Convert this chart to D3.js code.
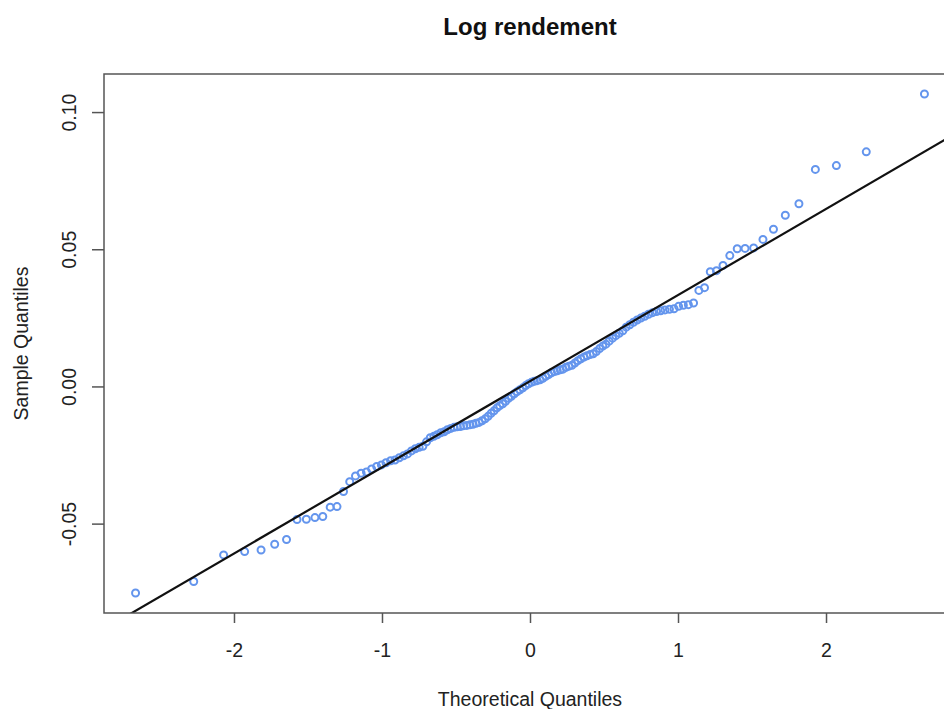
<!DOCTYPE html>
<html>
<head>
<meta charset="utf-8">
<title>Log rendement</title>
<script src="https://cdn.jsdelivr.net/npm/d3@7"></script>
<style>
  body { margin: 0; background: #fff; }
  text { font-family: "Liberation Sans", Arial, sans-serif; fill: #222; }
</style>
</head>
<body>
<svg id="chart"></svg>
<script>
  // theoretical normal quantiles (n = 130), sorted
  var theoretical = [
    -2.665, -2.272, -2.070, -1.928, -1.817, -1.725, -1.645, -1.574, -1.511, -1.453,
    -1.400, -1.350, -1.304, -1.260, -1.218, -1.179, -1.141, -1.105, -1.070, -1.036,
    -1.004, -0.973, -0.942, -0.912, -0.883, -0.855, -0.828, -0.801, -0.775, -0.749,
    -0.724, -0.699, -0.674, -0.650, -0.627, -0.603, -0.580, -0.558, -0.535, -0.513,
    -0.492, -0.470, -0.448, -0.427, -0.406, -0.385, -0.365, -0.344, -0.324, -0.303,
    -0.283, -0.263, -0.243, -0.223, -0.204, -0.184, -0.165, -0.145, -0.126, -0.106,
    -0.087, -0.068, -0.048, -0.029, -0.010, 0.010, 0.029, 0.048, 0.068, 0.087,
    0.106, 0.126, 0.145, 0.165, 0.184, 0.204, 0.223, 0.243, 0.263, 0.283,
    0.303, 0.324, 0.344, 0.365, 0.385, 0.406, 0.427, 0.448, 0.470, 0.492,
    0.513, 0.535, 0.558, 0.580, 0.603, 0.627, 0.650, 0.674, 0.699, 0.724,
    0.749, 0.775, 0.801, 0.828, 0.855, 0.883, 0.912, 0.942, 0.973, 1.004,
    1.036, 1.070, 1.105, 1.141, 1.179, 1.218, 1.260, 1.304, 1.350, 1.400,
    1.453, 1.511, 1.574, 1.645, 1.725, 1.817, 1.928, 2.070, 2.272, 2.665
  ];

  // sorted log returns (sample quantiles)
  var sample = [
    -0.0753, -0.0711, -0.0614, -0.0602, -0.0596, -0.0575, -0.0558, -0.0485, -0.0484, -0.0478,
    -0.0474, -0.0440, -0.0438, -0.0383, -0.0347, -0.0326, -0.0316, -0.0312, -0.0301, -0.0292,
    -0.0286, -0.0278, -0.0271, -0.0268, -0.0260, -0.0253, -0.0246, -0.0235, -0.0227, -0.0222,
    -0.0218, -0.0202, -0.0187, -0.0182, -0.0176, -0.0169, -0.0165, -0.0158, -0.0153, -0.0149,
    -0.0147, -0.0146, -0.0143, -0.0142, -0.0140, -0.0138, -0.0134, -0.0131, -0.0125, -0.0118,
    -0.0109, -0.0098, -0.0089, -0.0078, -0.0070, -0.0063, -0.0054, -0.0043, -0.0036, -0.0027,
    -0.0019, -0.0012, -0.0005, 0.0003, 0.0010, 0.0015, 0.0019, 0.0021, 0.0024, 0.0030,
    0.0037, 0.0043, 0.0050, 0.0054, 0.0057, 0.0061, 0.0063, 0.0070, 0.0074, 0.0077,
    0.0085, 0.0094, 0.0101, 0.0107, 0.0112, 0.0116, 0.0119, 0.0127, 0.0138, 0.0147,
    0.0154, 0.0165, 0.0176, 0.0185, 0.0194, 0.0203, 0.0216, 0.0225, 0.0234, 0.0242,
    0.0249, 0.0256, 0.0263, 0.0269, 0.0273, 0.0276, 0.0279, 0.0281, 0.0283, 0.0292,
    0.0296, 0.0298, 0.0304, 0.0350, 0.0360, 0.0418, 0.0422, 0.0441, 0.0477, 0.0502,
    0.0503, 0.0505, 0.0536, 0.0573, 0.0624, 0.0666, 0.0791, 0.0805, 0.0855, 0.1066
  ];

  var xTicks = [-2, -1, 0, 1, 2];
  var yTicks = [-0.05, 0, 0.05, 0.10];
  var yTickLabels = ['-0.05', '0.00', '0.05', '0.10'];

  // qqline
  var lineIntercept = 0.0019;
  var lineSlope = 0.0314;

  var W = 944, H = 709;
  var box = { left: 104, top: 74, right: 956, bottom: 613 };

  var svg = d3.select('#chart')
    .attr('width', W)
    .attr('height', H)
    .style('display', 'block');

  // R pads the data range by 4%
  var xr = d3.extent(theoretical), yr = d3.extent(sample);
  var xp = (xr[1] - xr[0]) * 0.04, yp = (yr[1] - yr[0]) * 0.04;

  var x = d3.scaleLinear()
    .domain([xr[0] - xp, xr[1] + xp])
    .range([box.left, box.right]);

  var y = d3.scaleLinear()
    .domain([yr[0] - yp, yr[1] + yp])
    .range([box.bottom, box.top]);

  svg.append('clipPath')
    .attr('id', 'plotclip')
    .append('rect')
    .attr('x', box.left)
    .attr('y', box.top)
    .attr('width', box.right - box.left)
    .attr('height', box.bottom - box.top);

  var plot = svg.append('g').attr('clip-path', 'url(#plotclip)');

  plot.selectAll('circle')
    .data(sample)
    .enter()
    .append('circle')
    .attr('cx', (d, i) => x(theoretical[i]))
    .attr('cy', d => y(d))
    .attr('r', 3.5)
    .style('fill', 'none')
    .style('stroke', '#6495ed')
    .style('stroke-width', 2);

  var qq = d3.line()
    .x(d => x(d))
    .y(d => y(lineIntercept + lineSlope * d));

  plot.append('path')
    .datum(x.domain())
    .attr('d', qq)
    .style('fill', 'none')
    .style('stroke', '#111')
    .style('stroke-width', 2.2);

  // frame
  svg.append('rect')
    .attr('x', box.left)
    .attr('y', box.top)
    .attr('width', box.right - box.left)
    .attr('height', box.bottom - box.top)
    .style('fill', 'none')
    .style('stroke', '#555')
    .style('stroke-width', 1.5);

  var xAxis = d3.axisBottom(x)
    .tickValues(xTicks)
    .tickFormat(d3.format('d'))
    .tickSize(10)
    .tickPadding(20);

  var gx = svg.append('g')
    .attr('transform', 'translate(0,' + box.bottom + ')')
    .call(xAxis);
  gx.select('.domain').remove();
  gx.selectAll('line').style('stroke', '#555').style('stroke-width', 1.5);
  gx.selectAll('text')
    .attr('y', 44)
    .attr('dy', 0)
    .style('font-size', '19.5px')
    .style('fill', '#222')
    .text(d => d < 0 ? '-' + Math.abs(d) : d);

  var yAxis = d3.axisLeft(y)
    .tickValues(yTicks)
    .tickFormat((d, i) => yTickLabels[i])
    .tickSize(12);

  var gy = svg.append('g')
    .attr('transform', 'translate(' + box.left + ',0)')
    .call(yAxis);
  gy.select('.domain').remove();
  gy.selectAll('line').style('stroke', '#555').style('stroke-width', 1.5);
  gy.selectAll('text')
    .attr('transform', 'rotate(-90)')
    .attr('x', 0)
    .attr('y', -28)
    .attr('dy', 0)
    .style('text-anchor', 'middle')
    .style('font-size', '19.5px')
    .style('fill', '#222');

  svg.append('text')
    .attr('x', (box.left + box.right) / 2)
    .attr('y', 35)
    .style('text-anchor', 'middle')
    .style('font-size', '24px')
    .style('font-weight', 'bold')
    .style('fill', '#111')
    .text('Log rendement');

  svg.append('text')
    .attr('x', (box.left + box.right) / 2)
    .attr('y', 706)
    .style('text-anchor', 'middle')
    .style('font-size', '19.5px')
    .text('Theoretical Quantiles');

  svg.append('text')
    .attr('transform', 'translate(28,' + (box.top + box.bottom) / 2 + ') rotate(-90)')
    .style('text-anchor', 'middle')
    .style('font-size', '19.5px')
    .text('Sample Quantiles');
</script>
</body>
</html>
